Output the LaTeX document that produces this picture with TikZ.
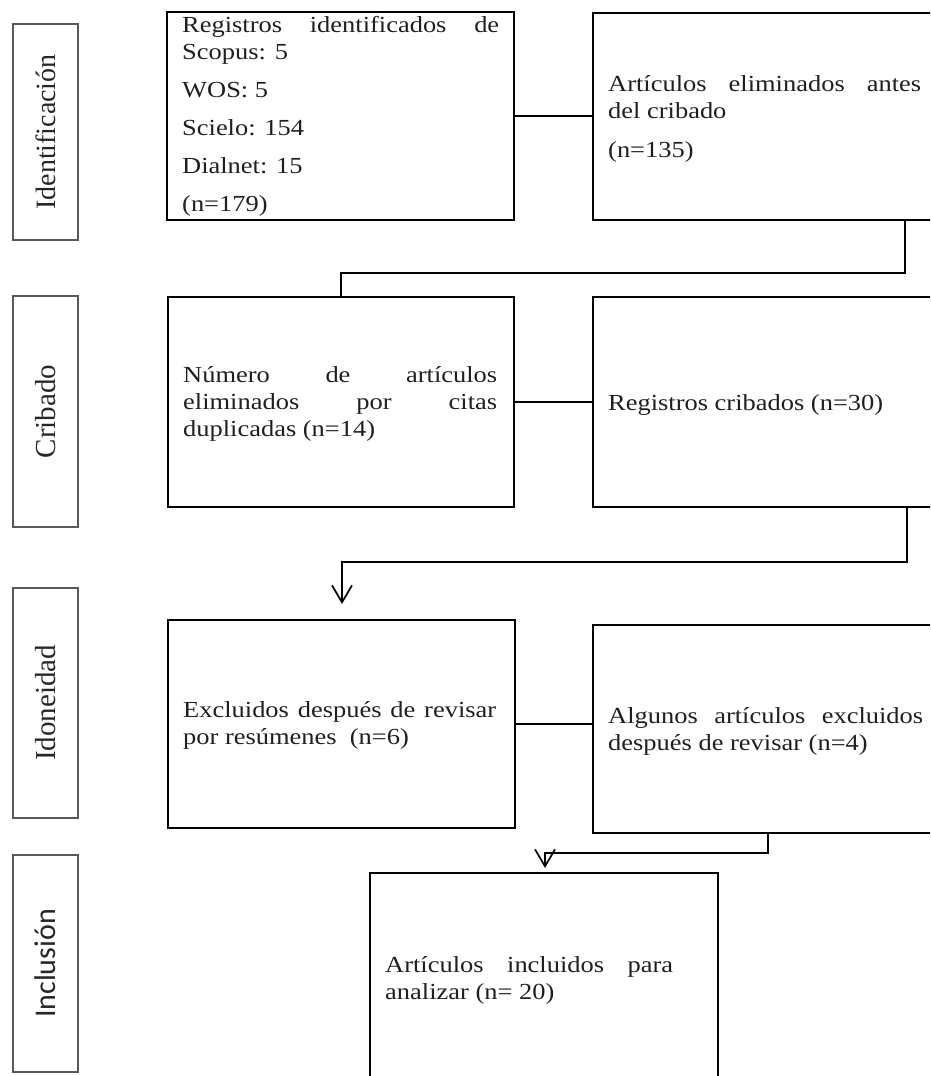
\documentclass[tikz,border=0pt]{standalone}
\usepackage{fontspec}
\setmainfont{Liberation Serif}[FakeStretch=1.15]
\newfontfamily\labserif{Liberation Serif}
\newfontfamily\labsans{Carlito}
\usetikzlibrary{arrows.meta}
\newcommand\boxfont{\fontsize{23}{27}\selectfont\hyphenpenalty10000\exhyphenpenalty10000\tolerance9999\relax}
\begin{document}
\begin{tikzpicture}[x=1pt,y=-1pt,
  box/.style={draw=black, line width=1.7pt, rectangle, inner sep=0pt},
  lab/.style={draw=black!65, line width=1.5pt, rectangle, inner sep=0pt, text=black!85},
  txt/.style={inner sep=0pt, text width=#1, align=justify, anchor=west, font=\boxfont, text=black!88},
  conn/.style={line width=1.7pt},
  arr/.style={line width=1.7pt, -{Straight Barb[length=17pt,width=20pt,line width=1.7pt]}}]
\useasboundingbox (0,0) rectangle (930,1076);
\clip (0,0) rectangle (930,1076);

% phase labels
\node[lab, rotate=90, minimum width=216pt, minimum height=65pt, font=\labserif\fontsize{28}{28}\selectfont] (l1) at (45.5,132) {Identificación};
\node[lab, rotate=90, minimum width=231pt, minimum height=65pt, font=\labserif\fontsize{29}{29}\selectfont] (l2) at (45.5,411.5) {Cribado};
\node[lab, rotate=90, minimum width=230pt, minimum height=65pt, font=\labserif\fontsize{29}{29}\selectfont] (l3) at (45.5,703) {Idoneidad};
\node[lab, rotate=90, minimum width=217pt, minimum height=65pt, font=\labsans\fontsize{30}{30}\selectfont] (l4) at (45.5,963.5) {Inclusión};

% boxes
\node[box, minimum width=347pt, minimum height=208pt] (b1) at (340.5,116) {};
\node[box, minimum width=347pt, minimum height=207pt] (b2) at (766.5,116.5) {};
\node[box, minimum width=346pt, minimum height=210pt] (b3) at (341,402) {};
\node[box, minimum width=347pt, minimum height=210pt] (b4) at (766.5,402) {};
\node[box, minimum width=347pt, minimum height=208pt] (b5) at (341.5,724) {};
\node[box, minimum width=347pt, minimum height=208pt] (b6) at (766.5,729) {};
\node[box, minimum width=348pt, minimum height=217pt] (b7) at (544,981.5) {};

% texts
\node[txt=317pt] (t1) at (182,116) {\boxfont Registros identificados de Scopus: 5\par\vspace{11pt}WOS: 5\par\vspace{11pt}Scielo: 154\par\vspace{11pt}Dialnet: 15\par\vspace{11pt}(n=179)};
\node[txt=313pt] (t2) at (608,119) {\boxfont Artículos eliminados antes del cribado\par\vspace{12pt}(n=135)};
\node[txt=314pt] (t3) at (183,404) {\boxfont Número de artículos eliminados por citas duplicadas (n=14)};
\node[txt=315pt] (t4) at (608,405) {\boxfont Registros cribados (n=30)};
\node[txt=313pt] (t5) at (183,725) {\boxfont Excluidos después de revisar por resúmenes~ (n=6)};
\node[txt=315pt] (t6) at (608,731) {\boxfont Algunos artículos excluidos después de revisar (n=4)};
\node[txt=288pt] (t7) at (385,980) {\boxfont Artículos incluidos para analizar (n= 20)};

% horizontal connectors
\draw[conn] (b1.east) -- (b1.east -| b2.west);
\draw[conn] (b3.east) -- (b3.east -| b4.west);
\draw[conn] (b5.east) -- (b5.east -| b6.west);

% elbow connectors
\coordinate (k1) at (905,273);
\coordinate (k2) at (341,273);
\draw[conn] (b2.south -| k1) -- (k1) -- (k2) -- (k2 |- b3.north);

\coordinate (k3) at (907,562);
\coordinate (k4) at (342,562);
\coordinate (e1) at (342,604);
\draw[arr] (b4.south -| k3) -- (k3) -- (k4) -- (e1);

\coordinate (k5) at (768,853);
\coordinate (k6) at (545,853);
\coordinate (e2) at (545,868);
\draw[arr] (b6.south -| k5) -- (k5) -- (k6) -- (e2);
\end{tikzpicture}
\end{document}
